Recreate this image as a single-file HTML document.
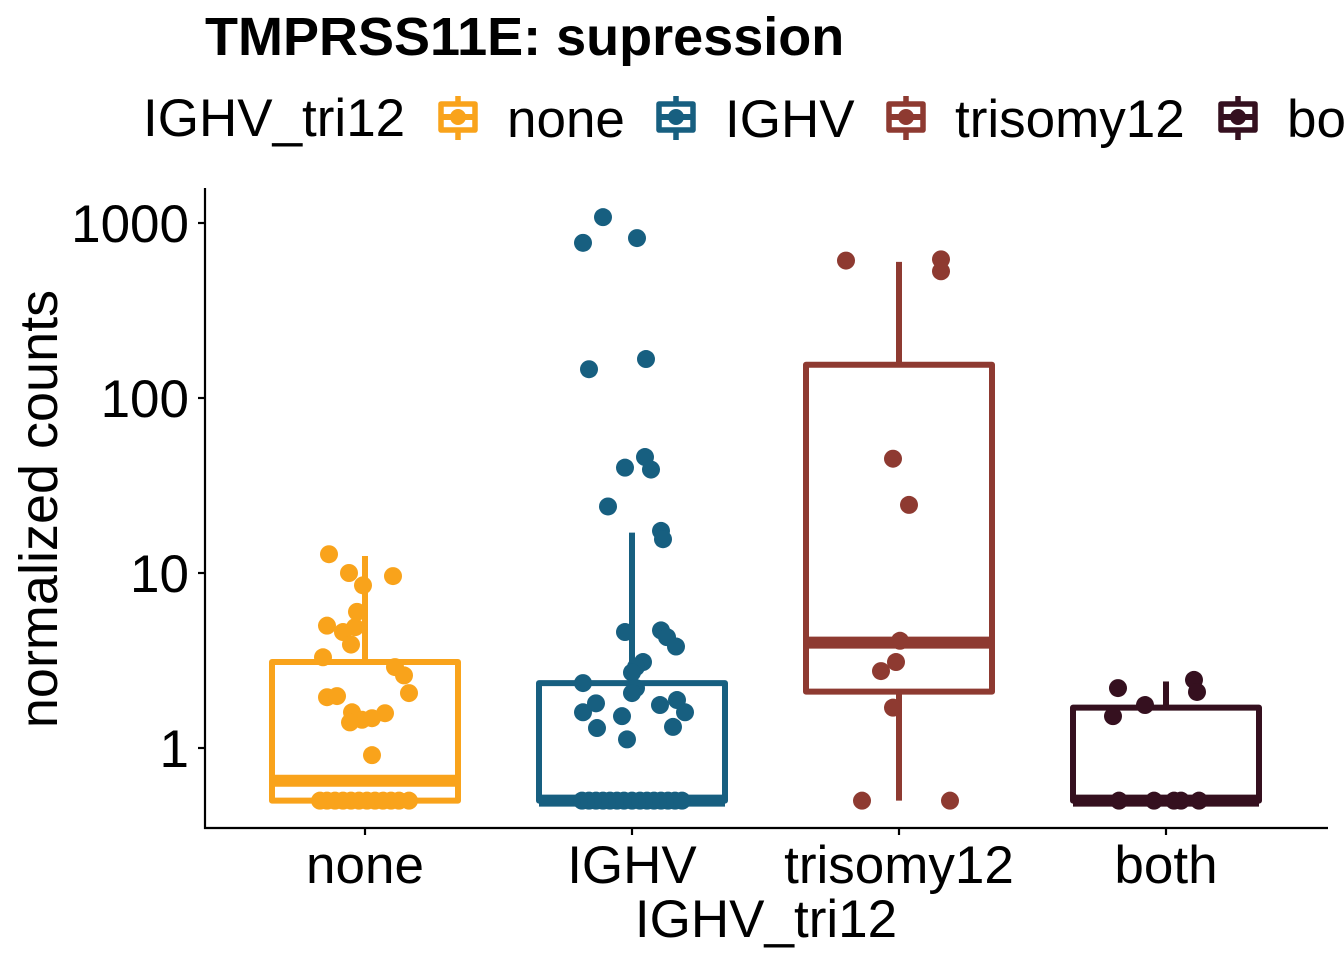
<!DOCTYPE html>
<html><head><meta charset="utf-8"><style>
body{margin:0;background:#fff;}
svg{display:block;font-family:"Liberation Sans",sans-serif;}
</style></head><body>
<svg id="chart" width="1344" height="960">
<text x="205" y="55" font-size="54" font-weight="bold">TMPRSS11E: supression</text>
<g id="legend"><text x="143" y="136" font-size="53">IGHV_tri12</text></g>
<g id="plot"></g>
<line x1="205" y1="188" x2="205" y2="829" stroke="#000" stroke-width="2.2"/>
<line x1="204" y1="828" x2="1328" y2="828" stroke="#000" stroke-width="2.2"/>
<text x="766" y="937" font-size="53" text-anchor="middle">IGHV_tri12</text>
<text transform="translate(57,509) rotate(-90)" font-size="54" text-anchor="middle">normalized counts</text>
</svg>
<script>
const categories=["none","IGHV","trisomy12","both"];
const colors=["#F9A31B","#175F80","#8E3A31","#35101F"];
const yTicks=[1,10,100,1000];
const boxLow=[0.5,0.5,2.1,0.5];
const boxMed=[0.65,0.5,4.0,0.5];
const boxHigh=[3.1,2.35,155,1.7];
const whiskLow=[0.5,0.5,0.5,0.5];
const whiskHigh=[12.5,17,600,2.4];
const ptsNone=[12.8,10,9.6,8.5,6,5,4.9,4.6,3.9,3.3,2.9,2.6,2.06,1.95,1.98,1.6,1.58,1.45,1.48,1.4,0.91,0.5,0.5,0.5,0.5,0.5,0.5,0.5,0.5,0.5,0.5,0.5,0.5];
const jitNone=[-36,-16,28,-2,-8,-38,-10,-22,-14,-42,30,39,44,-38,-28,-13,20,-3,7,-15,7,-45,-38,-30,-22,-14,-6,2,10,18,26,34,44];
const ptsIGHV=[1080,770,820,167,146,46,40,39,24,17.4,15.6,4.6,4.7,4.3,3.8,3.1,2.9,2.7,2.35,2.2,2.06,1.8,1.76,1.88,1.6,1.52,1.6,1.3,1.32,1.12,0.5,0.5,0.5,0.5,0.5,0.5,0.5,0.5,0.5,0.5,0.5,0.5,0.5,0.5,0.5];
const jitIGHV=[-29,-49,5,14,-43,13,-7,19,-24,29,31,-7,29,35,44,11,4,0,-49,4,0,-36,28,45,-49,-10,53,-35,41,-5,-50,-43,-36,-29,-22,-15,-8,0,8,15,22,29,36,43,50];
const ptsTri=[610,620,530,45,24.5,4.1,3.1,2.75,1.7,0.5,0.5];
const jitTri=[-53,42,42,-6,10,1,-3,-18,-6,-37,51];
const ptsBoth=[2.2,2.45,2.09,1.76,1.52,0.5,0.5,0.5,0.5,0.5];
const jitBoth=[-48,28,31,-21,-53,-47,-12,8,15,33];
const points=[ptsNone,ptsIGHV,ptsTri,ptsBoth];
const jitter=[jitNone,jitIGHV,jitTri,jitBoth];

const NS="http://www.w3.org/2000/svg";
const plot=document.getElementById('plot');
const svg=document.getElementById('chart');
function y(v){return 748-175*Math.log10(v);}
function x(i){return 365+267*i;}
function mk(tag,attrs,parent){const e=document.createElementNS(NS,tag);for(const k in attrs)e.setAttribute(k,attrs[k]);(parent||plot).appendChild(e);return e;}

yTicks.forEach(t=>{
  const l=mk('line',{x1:198,x2:205,y1:y(t),y2:y(t),stroke:'#000','stroke-width':2.2},svg);
  
  
  const tx=mk('text',{x:189,y:y(t)+19,'font-size':53,'text-anchor':'end'},svg);
  tx.textContent=t;
  
  
});
categories.forEach((c,i)=>{
  const l=mk('line',{x1:x(i),x2:x(i),y1:828,y2:835,stroke:'#000','stroke-width':2.2},svg);
  
  
  const tx=mk('text',{x:x(i),y:883,'font-size':53,'text-anchor':'middle'},svg);
  tx.textContent=c;
  
  
  const col=colors[i],cx=x(i),hw=93;
  const g=mk('g',{});
  
  
  mk('line',{x1:cx,x2:cx,y1:y(boxHigh[i]),y2:y(whiskHigh[i]),stroke:col,'stroke-width':6},g);
  mk('line',{x1:cx,x2:cx,y1:y(boxLow[i]),y2:y(whiskLow[i]),stroke:col,'stroke-width':6},g);
  mk('rect',{x:cx-hw,y:y(boxHigh[i]),width:2*hw,height:y(boxLow[i])-y(boxHigh[i]),fill:'none',stroke:col,'stroke-width':6,'stroke-linejoin':'round'},g);
  mk('line',{x1:cx-hw,x2:cx+hw,y1:y(boxMed[i]),y2:y(boxMed[i]),stroke:col,'stroke-width':12},g);
  points[i].forEach((v,j)=>{
    const p=mk('circle',{cx:cx+jitter[i][j],cy:y(v),r:9,fill:col});
    
    
  });
  const lg=document.getElementById('legend');
  const lx=[438,656,886,1218][i];
  const kg=mk('g',{},lg);
  
  
  mk('line',{x1:lx+20,x2:lx+20,y1:96,y2:140,stroke:col,'stroke-width':5.5},kg);
  mk('rect',{x:lx+3,y:104,width:34,height:26,fill:'#fff',stroke:col,'stroke-width':5.5,'stroke-linejoin':'round'},kg);
  mk('line',{x1:lx+3,x2:lx+37,y1:117,y2:117,stroke:col,'stroke-width':6},kg);
  mk('circle',{cx:lx+20,cy:117,r:8,fill:col},kg);
  const lt=mk('text',{x:lx+69,y:137,'font-size':53},kg);
  lt.textContent=c;
});
</script>
</body></html>
